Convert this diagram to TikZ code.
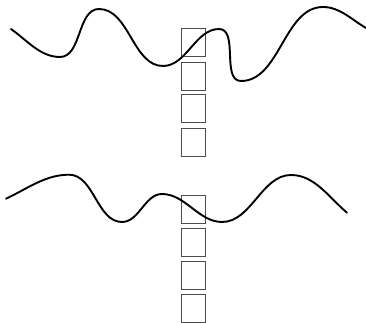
\documentclass[tikz,border=0pt]{standalone}
\begin{document}
\begin{tikzpicture}[x=1pt,y=1pt,
  cell/.style={draw=black!70,line width=0.8pt,minimum width=24pt,minimum height=28pt,inner sep=0pt,outer sep=0pt},
  wave/.style={line width=1.9pt,line cap=round,looseness=0.9}]
\useasboundingbox (0,0) rectangle (366,323);
% top column
\node[cell] (t1) at (193,280.5) {};
\node[cell] (t2) at (193,247) {};
\node[cell] (t3) at (193,214.2) {};
\node[cell] (t4) at (193,180.8) {};
% bottom column
\node[cell] (b1) at (193,114) {};
\node[cell] (b2) at (193,81) {};
\node[cell] (b3) at (193,47.7) {};
\node[cell] (b4) at (193,14.4) {};
% top wave
\draw[wave] (11,294) to[out=-35,in=180] (60,266)
  to[out=0,in=180] (99,314)
  to[out=0,in=180] (163,257)
  to[out=0,in=180] (219,294)
  to[out=0,in=180] (241,242)
  to[out=0,in=180] (323,316)
  to[out=0,in=150] (366,295);
% bottom wave
\draw[wave] (6,124.3) to[out=25,in=180] (69,148.3)
  to[out=0,in=180] (122,101)
  to[out=0,in=180] (162,129)
  to[out=0,in=180] (222,101)
  to[out=0,in=180] (291,148)
  to[out=0,in=140] (347,110.3);
\end{tikzpicture}
\end{document}
